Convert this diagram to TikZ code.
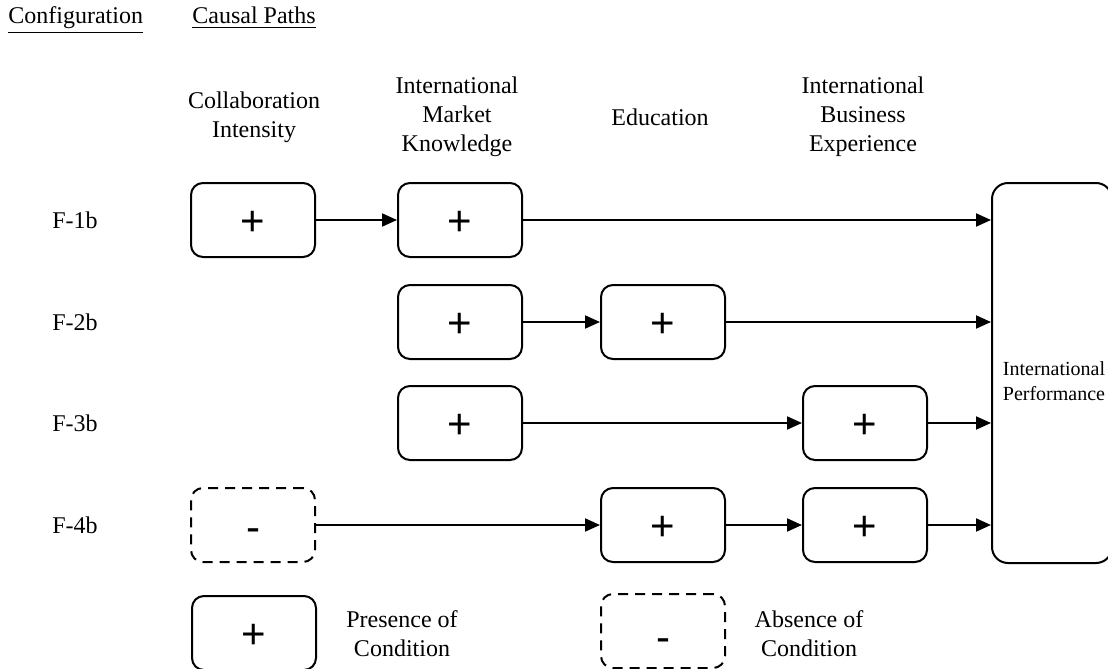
\documentclass[tikz,border=0pt]{standalone}
\usepackage{fontspec}
\setmainfont{Liberation Serif}
\newfontfamily\signfont{Liberation Sans}
\usetikzlibrary{arrows.meta}
% signs set on the node centre
\newcommand{\pres}{\raisebox{-7.6pt}{+}}
\newcommand{\abs}{\raisebox{-8pt}{-}}
\begin{document}
\begin{tikzpicture}[x=0.5pt,y=-0.5pt,
  cond/.style={draw,line width=1pt,rounded corners=6pt,minimum width=62pt,minimum height=37pt,inner sep=0pt,text height=0pt,text depth=0pt,font=\signfont\fontsize{21}{21}\selectfont},
  absent/.style={cond,dashed,dash pattern=on 5pt off 3.5pt},
  outcome/.style={draw,line width=1pt,rounded corners=8pt,minimum width=60pt,minimum height=190pt,inner sep=0pt},
  outtext/.style={align=center,inner sep=0pt,font=\fontsize{10}{12.5}\selectfont},
  head/.style={align=center,inner sep=0pt,font=\fontsize{12}{14.5}\selectfont},
  lbl/.style={inner sep=0pt,font=\fontsize{12}{14.5}\selectfont},
  link/.style={line width=1pt,-{Triangle[length=7.5pt,width=6.5pt]}}]
\useasboundingbox (0,0) rectangle (1108,669);

% column and row headings
\node[lbl,anchor=base west] (hconf) at (8,24) {\underline{Configuration}};
\node[lbl,anchor=base west] (hpath) at (192,24) {\underline{Causal Paths}};
\node[head] (hci) at (254,117) {Collaboration\\Intensity};
\node[head] (himk) at (457,117) {International\\Market\\Knowledge};
\node[head] (hedu) at (660,117) {Education};
\node[head] (hibe) at (863,117) {International\\Business\\Experience};

\node[lbl] (r1) at (75,220) {F-1b};
\node[lbl] (r2) at (75,322) {F-2b};
\node[lbl] (r3) at (75,423) {F-3b};
\node[lbl] (r4) at (75,525) {F-4b};

% outcome
\node[outcome] (perf) at (1052,373) {};
\node[outtext] (perft) at (1054,381) {International\\Performance};

% F-1b
\node[cond] (a1) at (253,220) {\pres};
\node[cond] (b1) at (460,220) {\pres};
% F-2b
\node[cond] (b2) at (460,322) {\pres};
\node[cond] (c2) at (663,322) {\pres};
% F-3b
\node[cond] (b3) at (460,423) {\pres};
\node[cond] (d3) at (865,423) {\pres};
% F-4b
\node[absent] (a4) at (253,525) {\abs};
\node[cond] (c4) at (663,525) {\pres};
\node[cond] (d4) at (865,525) {\pres};

\draw[link] (a1) -- (b1);
\draw[link] (b1.east) -- (b1.east -| perf.west);
\draw[link] (b2) -- (c2);
\draw[link] (c2.east) -- (c2.east -| perf.west);
\draw[link] (b3) -- (d3);
\draw[link] (d3.east) -- (d3.east -| perf.west);
\draw[link] (a4) -- (c4);
\draw[link] (c4) -- (d4);
\draw[link] (d4.east) -- (d4.east -| perf.west);

% legend
\node[cond] (lp) at (254,633) {\pres};
\node[head] (lpt) at (402,634) {Presence of\\Condition};
\node[absent] (la) at (663,631) {\raisebox{-2pt}{\abs}};
\node[head] (lat) at (809,634) {Absence of\\Condition};
\end{tikzpicture}
\end{document}
